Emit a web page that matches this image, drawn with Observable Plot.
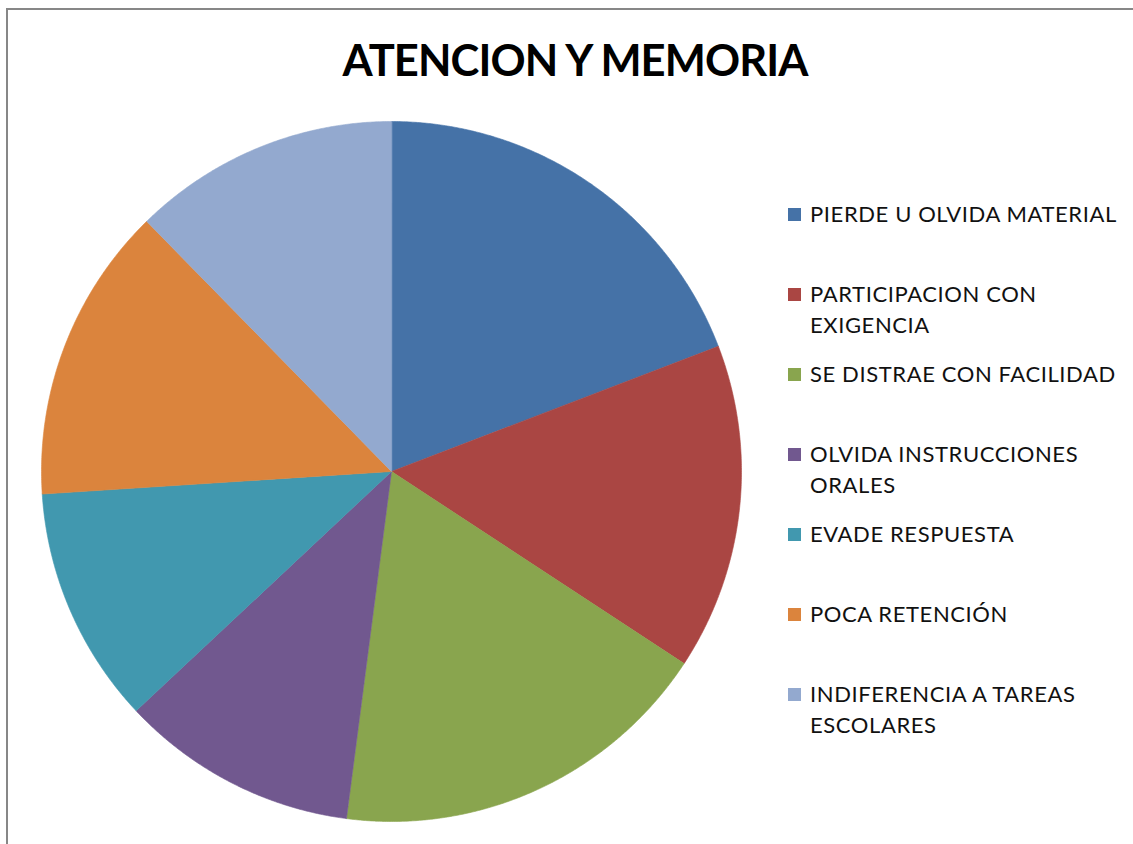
<!DOCTYPE html>
<html>
<head>
<meta charset="utf-8">
<script src="https://cdn.jsdelivr.net/npm/d3@7"></script>
<script src="https://cdn.jsdelivr.net/npm/@observablehq/plot@0.6"></script>
<style>
  html, body { margin: 0; padding: 0; background: #fff; }
  #frame { position: relative; width: 1133px; height: 844px; overflow: hidden; background: #fff; font-family: Lato, "Open Sans", sans-serif; }
  #border { position: absolute; left: 6px; top: 8px; width: 1200px; height: 900px; border: 2px solid #878787; box-sizing: border-box; }
  #title { position: absolute; left: 0; top: 29px; width: 1150px; text-align: center; font-weight: 700; font-size: 43.5px; line-height: 60px; color: #000; letter-spacing: -0.9px; }
  #pie { position: absolute; left: 40px; top: 120px; }
  #legend { position: absolute; left: 788px; top: 198px; }
  .item { height: 80px; display: flex; align-items: flex-start; }
  .sw { width: 13px; height: 13px; margin-top: 10px; margin-right: 9px; flex: none; }
  .lab { width: 322px; font-size: 22px; line-height: 31px; color: #111; letter-spacing: 0.6px; }
</style>
</head>
<body>
<div id="frame">
  <div id="border"></div>
  <div id="title"></div>
  <div id="pie"></div>
  <div id="legend"></div>
</div>
<script>
const title = "ATENCION Y MEMORIA";
const categories = [
  "PIERDE U OLVIDA MATERIAL",
  "PARTICIPACION CON EXIGENCIA",
  "SE DISTRAE CON FACILIDAD",
  "OLVIDA INSTRUCCIONES ORALES",
  "EVADE RESPUESTA",
  "POCA RETENCIÓN",
  "INDIFERENCIA A TAREAS ESCOLARES"
];
const values = [14, 11, 13, 8, 8, 10, 9];
const colors = ["#4572A7", "#AA4643", "#89A54E", "#71588F", "#4198AF", "#DB843D", "#93A9CF"];

document.getElementById("title").textContent = title;

// Build slice outlines (unit circle) from the data via d3.pie
const arcs = d3.pie().sort(null).value(d => d.value)(categories.map((name, i) => ({name, value: values[i]})));
const pts = [];
for (const a of arcs) {
  const name = a.data.name;
  pts.push({name, x: 0, y: 0});
  const steps = Math.max(2, Math.ceil((a.endAngle - a.startAngle) / 0.005));
  for (let k = 0; k <= steps; k++) {
    const t = a.startAngle + (a.endAngle - a.startAngle) * k / steps;
    pts.push({name, x: Math.sin(t), y: Math.cos(t)});
  }
}

const chart = Plot.plot({
  width: 702,
  height: 702,
  margin: 1,
  x: {domain: [-1, 1], axis: null},
  y: {domain: [-1, 1], axis: null},
  color: {domain: categories, range: colors},
  marks: [
    Plot.line(pts, {x: "x", y: "y", z: "name", fill: "name", stroke: "name", strokeWidth: 0.6, curve: "linear-closed"})
  ]
});
document.getElementById("pie").appendChild(chart);

const legend = document.getElementById("legend");
categories.forEach((c, i) => {
  const it = document.createElement("div");
  it.className = "item";
  const sw = document.createElement("div");
  sw.className = "sw";
  sw.style.background = colors[i];
  const lab = document.createElement("div");
  lab.className = "lab";
  lab.textContent = c;
  it.appendChild(sw);
  it.appendChild(lab);
  legend.appendChild(it);
});
</script>
</body>
</html>
